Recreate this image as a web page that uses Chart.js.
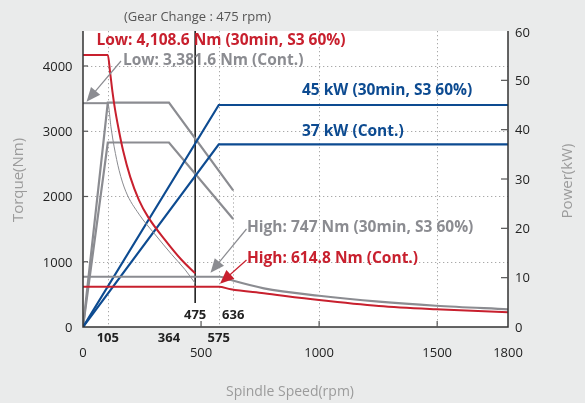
<!DOCTYPE html>
<html>
<head>
<meta charset="utf-8">
<script src="https://cdn.jsdelivr.net/npm/chart.js@4"></script>
<style>
  html, body { margin: 0; padding: 0; background: #eaebeb; }
  canvas { display: block; }
</style>
</head>
<body>
<canvas id="chart" width="585" height="403"></canvas>
<script>
// axis ticks
const speedMain = [0, 500, 1000, 1500, 1800];
const speedKey = [105, 364, 575];
const speedInner = [475, 636];
const speedGrid = [105, 575, 1000, 1500];
const speedTickMarks = [500, 1000, 1500];
const gearChange = 475;
const torqueTicks = [0, 1000, 2000, 3000, 4000];
const powerTicks = [0, 10, 20, 30, 40, 50, 60];

// torque (Nm), [rpm, Nm]
const lowTorque30 = [[0,4170],[105,4170],[115,3900],[125,3600],[135,3350],[150,3050],[170,2700],[200,2300],[237,1945],[276,1684],[348,1332],[418,1026],[475,822]];
const lowTorqueCont = [[0,3430],[105,3430],[119,3050],[132,2760],[153,2400],[181,2080],[237,1730],[307,1410],[376,1110],[432,880],[475,670]];
const highTorque30 = [[0,770],[580,770],[626,720],[766,593],[1000,479],[1253,388],[1495,326],[1800,271]];
const highTorqueCont = [[0,618],[575,618],[626,577],[766,516],[1000,413],[1253,322],[1495,271],[1800,225]];

// power (kW), [rpm, kW]
const lowPower30 = [[0,0],[105,45.5],[364,45.5],[636,27.7]];
const lowPowerCont = [[0,0],[105,37.4],[364,37.4],[636,21.9]];
const highPower30 = [[0,0],[575,45],[1800,45]];
const highPowerCont = [[0,0],[575,37],[1800,37]];

const RED = "#c8202e";
const GRAY = "#8b8c91";
const BLUE = "#0d4b91";
const FONT = "'Open Sans', 'DejaVu Sans', sans-serif";

function pts(arr){
  return arr.map(p => ({x: p[0], y: p[1]}));
}

function line(data, color, width, axis, curve){
  return {
    data: pts(data),
    borderColor: color,
    borderWidth: width,
    pointRadius: 0,
    yAxisID: axis,
    cubicInterpolationMode: curve ? "monotone" : "default",
    tension: 0
  };
}

let lowCont = line(lowTorqueCont, GRAY, 1, "y", true);
lowCont.segment = { borderWidth: c => c.p0DataIndex === 0 ? 2 : 1 };

function arrow(ctx, x0, y0, x1, y1, color){
  let a = Math.atan2(y1 - y0, x1 - x0);
  let len = 14, hw = 6;
  ctx.strokeStyle = color;
  ctx.fillStyle = color;
  ctx.lineWidth = 1.2;
  ctx.beginPath();
  ctx.moveTo(x0, y0);
  ctx.lineTo(x1 - Math.cos(a)*len*0.8, y1 - Math.sin(a)*len*0.8);
  ctx.stroke();
  ctx.beginPath();
  ctx.moveTo(x1, y1);
  ctx.lineTo(x1 - Math.cos(a)*len - Math.sin(a)*hw, y1 - Math.sin(a)*len + Math.cos(a)*hw);
  ctx.lineTo(x1 - Math.cos(a)*len + Math.sin(a)*hw, y1 - Math.sin(a)*len - Math.cos(a)*hw);
  ctx.closePath();
  ctx.fill();
}

function text(ctx, s, x, y, font, color, align, maxW){
  ctx.font = font;
  ctx.fillStyle = color;
  ctx.textAlign = align || "left";
  ctx.textBaseline = "alphabetic";
  if(maxW) ctx.fillText(s, x, y, maxW);
  else ctx.fillText(s, x, y);
}

const decor = {
  id: "decor",
  beforeDatasetsDraw(chart){
    const {ctx, chartArea: a, scales} = chart;
    const x = scales.x, y = scales.y, y1 = scales.y1;
    ctx.save();
    ctx.fillStyle = "#fff";
    ctx.fillRect(a.left, a.top, a.right - a.left, a.bottom - a.top);

    ctx.strokeStyle = "#a9a9a9";
    ctx.lineWidth = 1;
    ctx.setLineDash([1.3, 2.7]);
    torqueTicks.slice(1).forEach(v => {
      let py = Math.round(y.getPixelForValue(v)) + 0.5;
      ctx.beginPath(); ctx.moveTo(a.left, py); ctx.lineTo(a.right, py); ctx.stroke();
    });
    speedGrid.forEach(v => {
      let px = Math.round(x.getPixelForValue(v)) + 0.5;
      ctx.beginPath(); ctx.moveTo(px, a.top); ctx.lineTo(px, a.bottom); ctx.stroke();
    });
    // 636 guide runs from the end of the low gear power line
    let p636 = Math.round(x.getPixelForValue(636)) + 0.5;
    ctx.beginPath();
    ctx.moveTo(p636, y1.getPixelForValue(lowPower30[lowPower30.length-1][1]));
    ctx.lineTo(p636, a.bottom - 26);
    ctx.stroke();
    ctx.setLineDash([]);

    // gear change line
    let pg = x.getPixelForValue(gearChange);
    ctx.strokeStyle = "#111";
    ctx.lineWidth = 1.5;
    ctx.beginPath(); ctx.moveTo(pg, a.top); ctx.lineTo(pg, a.bottom - 24); ctx.stroke();
    ctx.restore();
  },
  afterDatasetsDraw(chart){
    const {ctx, chartArea: a, scales} = chart;
    const x = scales.x, y = scales.y, y1 = scales.y1;
    ctx.save();

    // axes
    ctx.strokeStyle = "#333";
    ctx.lineWidth = 1.5;
    ctx.beginPath();
    ctx.moveTo(a.left, a.top); ctx.lineTo(a.left, a.bottom); ctx.lineTo(a.right, a.bottom); ctx.lineTo(a.right, a.top);
    ctx.stroke();

    ctx.strokeStyle = "#555";
    ctx.lineWidth = 1.2;
    torqueTicks.slice(1).forEach(v => {
      let py = y.getPixelForValue(v);
      ctx.beginPath(); ctx.moveTo(a.left, py); ctx.lineTo(a.left + 5, py); ctx.stroke();
    });
    powerTicks.slice(1, -1).forEach(v => {
      let py = y1.getPixelForValue(v);
      ctx.beginPath(); ctx.moveTo(a.right - 7, py); ctx.lineTo(a.right, py); ctx.stroke();
    });
    speedTickMarks.forEach(v => {
      let px = x.getPixelForValue(v);
      ctx.beginPath(); ctx.moveTo(px, a.bottom); ctx.lineTo(px, a.bottom - 6); ctx.stroke();
    });

    // tick labels
    torqueTicks.forEach(v => {
      text(ctx, String(v), a.left - 10.5, y.getPixelForValue(v) + 4.8, "13px " + FONT, "#222", "right");
    });
    powerTicks.forEach(v => {
      let py = v === 60 ? y1.getPixelForValue(v) + 6 : y1.getPixelForValue(v) + 4.8;
      text(ctx, String(v), a.right + 7, py, "13px " + FONT, "#222", "left");
    });
    speedKey.forEach(v => {
      text(ctx, String(v), x.getPixelForValue(v), a.bottom + 14.5, "bold 13px " + FONT, "#222", "center");
    });
    speedMain.forEach(v => {
      text(ctx, String(v), x.getPixelForValue(v), a.bottom + 29.5, "13px " + FONT, "#222", "center");
    });
    speedInner.forEach(v => {
      text(ctx, String(v), x.getPixelForValue(v), a.bottom - 8.5, "bold 13px " + FONT, "#222", "center");
    });

    // titles
    text(ctx, "(Gear Change : 475 rpm)", 197.5, 20.5, "13px " + FONT, "#555", "center");
    text(ctx, "Spindle Speed(rpm)", 290, 396, "14px " + FONT, "#9b9b9b", "center");
    ctx.save();
    ctx.translate(23, 180); ctx.rotate(-Math.PI/2);
    text(ctx, "Torque(Nm)", 0, 0, "15px " + FONT, "#9b9b9b", "center");
    ctx.restore();
    ctx.save();
    ctx.translate(572, 181); ctx.rotate(-Math.PI/2);
    text(ctx, "Power(kW)", 0, 0, "15px " + FONT, "#9b9b9b", "center");
    ctx.restore();

    // callouts
    const B = "bold 15.5px " + FONT;
    text(ctx, "Low: 4,108.6 Nm (30min, S3 60%)", 96.5, 45, B, RED, "left", 255);
    text(ctx, "Low: 3,381.6 Nm (Cont.)", 123, 65, B, GRAY, "left", 182);
    text(ctx, "45 kW (30min, S3 60%)", 302, 95, B, BLUE, "left", 171);
    text(ctx, "37 kW (Cont.)", 302, 136, B, BLUE, "left", 102);
    text(ctx, "High: 747 Nm (30min, S3 60%)", 247, 232, B, GRAY, "left", 229);
    text(ctx, "High: 614.8 Nm (Cont.)", 247, 262.5, B, RED, "left", 172);

    arrow(ctx, 121, 61, x.getPixelForValue(15), y.getPixelForValue(lowTorqueCont[0][1]) - 1.5, GRAY);
    arrow(ctx, 246.5, 229, x.getPixelForValue(540), y.getPixelForValue(highTorque30[0][1]) - 4, GRAY);
    arrow(ctx, 246.5, 260, x.getPixelForValue(580), y.getPixelForValue(highTorqueCont[1][1]) - 3, RED);

    ctx.restore();
  }
};

let chart = new Chart(document.getElementById("chart"), {
  type: "line",
  data: {
    datasets: [
      line(lowTorque30, RED, 2, "y", true),
      line(highTorqueCont, RED, 2, "y", true),
      lowCont,
      line(highTorque30, GRAY, 2.2, "y", true),
      line(highPower30, BLUE, 2.2, "y1", false),
      line(highPowerCont, BLUE, 2.2, "y1", false),
      line(lowPower30, GRAY, 2.2, "y1", false),
      line(lowPowerCont, GRAY, 2.2, "y1", false)
    ]
  },
  options: {
    responsive: false,
    animation: false,
    devicePixelRatio: 1,
    layout: { padding: { left: 83, right: 77, top: 31, bottom: 76 } },
    plugins: { legend: { display: false }, tooltip: { enabled: false } },
    scales: {
      x: { type: "linear", min: 0, max: 1800, display: false },
      y: { min: 0, max: 4536, display: false },
      y1: { min: 0, max: 60, display: false, position: "right" }
    }
  },
  plugins: [decor]
});
</script>
</body>
</html>
